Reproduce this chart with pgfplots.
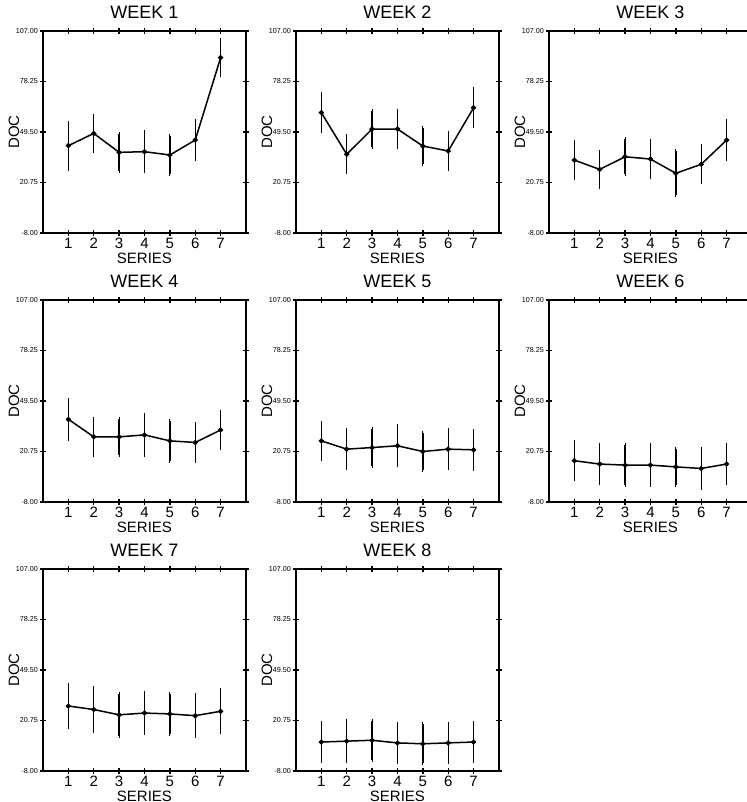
\documentclass[border=0pt]{standalone}
\usepackage{pgfplots}
\pgfplotsset{compat=1.18}
\usepgfplotslibrary{groupplots}
\usetikzlibrary{calc}
\usepackage{fontspec}
\setmainfont{Liberation Sans}

\pgfplotsset{
  weekax/.style={
    scale only axis, width=101.5pt, height=101pt,
    xmin=0, xmax=8, ymin=-8, ymax=107,
    xtick={1,...,7},
    ytick={-8,20.75,49.5,78.25,107},
    yticklabel style={font=\fontsize{3.6}{4.2}\selectfont, /pgf/number format/fixed,
      /pgf/number format/fixed zerofill, /pgf/number format/precision=2,
      /pgf/number format/assume math mode=true, inner sep=0.8pt},
    xticklabel style={font=\fontsize{7.5}{8}\selectfont, inner sep=1pt},
    /pgf/number format/assume math mode=true,
    tick align=center, major tick length=3pt,
    tick style={line width=0.7pt, black},
    axis line style={line width=1pt},
    xlabel={SERIES}, ylabel={DOC},
    xlabel style={font=\fontsize{7.5}{8}\selectfont, at={(axis description cs:0.5,0)}, anchor=center, yshift=-12.5pt},
    ylabel style={font=\fontsize{7.5}{8}\selectfont, at={(axis description cs:0,0.5)}, anchor=center, yshift=14.5pt},
    title style={font=\fontsize{9}{10}\selectfont, at={(axis description cs:0.5,1)}, anchor=center, yshift=3.5pt},
  },
  series/.style={black, line width=0.75pt, mark=*, mark size=0.9pt,
    error bars/.cd, y dir=both, y explicit, error mark=-,
    error bar style={line width=0.7pt}, error mark options={mark size=1pt, line width=0.5pt}},
}

\begin{document}
\begin{tikzpicture}
\begin{groupplot}[group style={group size=3 by 3, horizontal sep=25pt, vertical sep=33.5pt}, weekax]
\nextgroupplot[title={WEEK 1}]
\addplot[series] coordinates {(1,41.7)+-(0,13) (2,48.7)+-(0,10) (3,37.9)+-(0,10.5) (4,38.3)+-(0,11) (5,36.4)+-(0,11) (6,44.9)+-(0,11) (7,91.8)+-(0,10)};
\nextgroupplot[title={WEEK 2}]
\addplot[series] coordinates {(1,60.5)+-(0,10.4) (2,36.8)+-(0,10.3) (3,51.2)+-(0,10) (4,51.2)+-(0,10.4) (5,41.5)+-(0,10.4) (6,38.7)+-(0,10.2) (7,63.3)+-(0,10.4)};
\nextgroupplot[title={WEEK 3}]
\addplot[series] coordinates {(1,33.5)+-(0,10.4) (2,28.2)+-(0,10) (3,35.4)+-(0,10) (4,34.1)+-(0,10.4) (5,26)+-(0,12.5) (6,31.1)+-(0,10.2) (7,44.9)+-(0,10.7)};
\nextgroupplot[title={WEEK 4}]
\addplot[series] coordinates {(1,39.1)+-(0,11) (2,29.1)+-(0,10.4) (3,29.1)+-(0,10.2) (4,30.2)+-(0,11.3) (5,26.8)+-(0,11.3) (6,25.9)+-(0,10.6) (7,33)+-(0,10.4)};
\nextgroupplot[title={WEEK 5}]
\addplot[series] coordinates {(1,26.8)+-(0,10.4) (2,22.1)+-(0,10.9) (3,23)+-(0,10.6) (4,24)+-(0,11) (5,20.75)+-(0,10.4) (6,22.1)+-(0,10.9) (7,21.7)+-(0,10.7)};
\nextgroupplot[title={WEEK 6}]
\addplot[series] coordinates {(1,15.5)+-(0,10.6) (2,13.6)+-(0,11) (3,13)+-(0,11.3) (4,13)+-(0,11.3) (5,12)+-(0,10.4) (6,11.1)+-(0,10.9) (7,13.6)+-(0,10.9)};
\nextgroupplot[title={WEEK 7}]
\addplot[series] coordinates {(1,29)+-(0,12) (2,27)+-(0,12) (3,24)+-(0,12) (4,25)+-(0,11.5) (5,24.5)+-(0,11.5) (6,23.5)+-(0,11.5) (7,26)+-(0,12)};
\nextgroupplot[title={WEEK 8}]
\addplot[series] coordinates {(1,8.5)+-(0,11) (2,9)+-(0,11.5) (3,9.5)+-(0,11) (4,8)+-(0,11) (5,7.5)+-(0,11) (6,8)+-(0,11) (7,8.5)+-(0,11)};
\end{groupplot}
\pgfresetboundingbox
\useasboundingbox ($(group c1r1.south west)+(-21.5pt,-284.5pt)$) rectangle ($(group c1r1.south west)+(352pt,116.5pt)$);
\end{tikzpicture}
\end{document}
